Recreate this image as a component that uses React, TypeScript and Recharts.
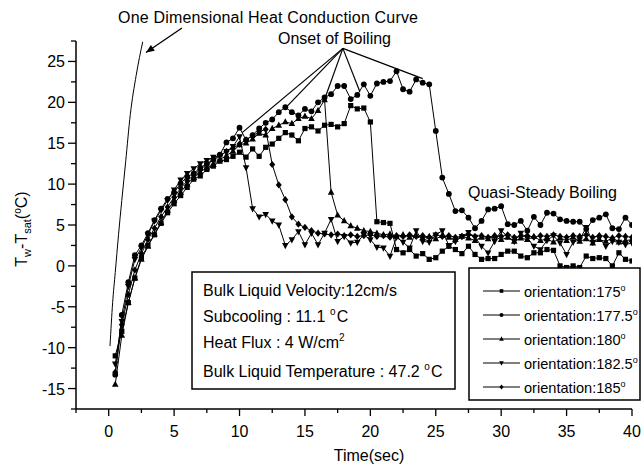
import { LineChart, Line, XAxis, YAxis, ReferenceLine } from 'recharts';

const FONT = '"Liberation Sans", Arial, Helvetica, sans-serif';

// sampling grid, 0.5 s steps
const times = Array.from({ length: 80 }, (_, i) => (i + 1) * 0.5);

// wall superheat (Tw - Tsat, °C) per orientation
const orient175 = [
  -11, -8, -4.5, -1.5, 1.0, 2.5, 3.8, 5.2, 6.5, 7.6,
  8.6, 9.6, 10.6, 11.0, 11.8, 12.2, 12.8, 13.0, 13.4, 13.9,
  13.3, 14.3, 13.4, 14.5, 14.9, 15.6, 16.3, 16.0, 15.3, 16.8,
  17.0, 16.5, 17.2, 17.3, 17.0, 17.4, 19.6, 19.2, 19.3, 17.6,
  5.4, 5.3, 5.2, 2.0, 1.6, 2.0, 1.2, 1.5, 0.8, 1.0,
  1.8, 2.4, 2.0, 1.5, 2.4, 1.4, 0.8, 0.9, 0.9, 1.4,
  1.8, 1.8, 1.2, 1.0, 1.6, 1.6, 2.0, 1.9, 0.0, -0.2,
  0.0, -0.2, 1.2, 0.9, 1.0, 0.9, 0.0, 1.6, 0.8, 0.6,
];
const orient177 = [
  -13.3, -6.0, -2.0, 1.3, 2.5, 4.0, 5.6, 7.0, 8.2, 9.0,
  10.1, 10.9, 11.3, 12.0, 12.5, 13.0, 13.6, 15.1, 15.6, 16.9,
  15.4, 16.0, 16.8, 17.5, 17.9, 18.8, 19.4, 18.8, 18.4, 19.2,
  18.9, 20.0, 20.6, 21.0, 22.0, 22.0, 20.4, 20.9, 22.2, 20.8,
  22.3, 22.5, 22.6, 23.8, 21.6, 21.3, 22.8, 22.4, 22.2, 16.5,
  10.8, 8.8, 6.7, 6.8, 5.9, 4.6, 5.5, 6.9, 7.0, 7.3,
  5.1, 5.0, 5.5, 4.3, 6.0, 5.0, 6.5, 6.4, 5.7, 5.5,
  5.4, 5.4, 4.5, 5.6, 5.9, 6.3, 4.6, 4.5, 5.9, 5.0,
];
const orient180 = [
  -14.5, -8.5, -4.5, -1.5, 0.8, 2.4, 3.9, 5.3, 6.8, 8.0,
  9.0, 10.0, 10.8, 11.5, 12.0, 12.4, 13.0, 13.5, 14.0, 14.8,
  15.0, 15.5, 16.2, 16.0, 16.8, 17.2, 17.6, 17.4, 18.0, 18.3,
  18.0, 19.0, 20.3, 9.0, 6.2, 5.5, 4.9, 4.6, 4.3, 4.2,
  4.0, 3.8, 3.9, 3.6, 3.8, 3.5, 3.7, 3.4, 3.6, 3.3,
  3.7, 3.5, 3.2, 3.6, 3.4, 3.1, 3.5, 3.3, 3.6, 3.2,
  3.5, 3.0, 3.4, 3.2, 3.6, 3.1, 3.3, 2.9, 3.4, 3.1,
  3.5, 3.0, 3.3, 2.8, 3.2, 3.0, 3.4, 2.9, 3.1, 3.2,
];
const orient182 = [
  -12.0, -6.8, -2.5, 0.8, 2.2, 3.8, 5.5, 6.8, 8.0, 9.3,
  10.5, 11.3, 11.9, 12.5, 12.9, 13.3, 13.4, 14.0, 14.6, 15.8,
  12.0, 7.0, 6.0, 6.3, 5.5, 5.0, 2.5, 3.2, 4.2, 2.6,
  4.0, 2.6, 4.0, 5.7, 3.0, 3.6, 2.8, 2.9, 3.8, 3.2,
  2.3, 2.2, 1.2, 3.5, 2.9, 2.2, 4.3, 3.0, 2.9, 3.8,
  4.3, 2.5, 3.0, 3.6, 4.1, 3.5, 2.4, 1.6, 3.0, 4.3,
  3.6, 3.0, 4.0, 3.4, 2.4, 2.0, 3.1, 3.7, 2.8, 1.4,
  2.9, 3.2, 4.7, 2.9, 3.4, 2.4, 3.0, 2.9, 2.6, 2.8,
];
const orient185 = [
  -13.0, -7.2, -3.5, -0.5, 1.5, 3.2, 4.6, 6.0, 7.2, 8.4,
  9.5, 10.4, 11.1, 11.8, 12.4, 12.9, 13.5, 14.0, 14.4, 14.9,
  15.4, 15.9, 16.4, 16.7, 12.4, 9.9, 8.1, 6.0, 5.1, 4.7,
  4.3, 4.0, 3.9, 3.8, 3.9, 3.7, 3.8, 3.6, 3.7, 3.8,
  3.6, 3.7, 3.5, 3.7, 3.6, 3.8, 3.6, 3.7, 3.5, 3.8,
  3.6, 3.7, 3.5, 3.6, 3.8, 3.6, 3.7, 3.5, 3.7, 3.6,
  3.8, 3.5, 3.6, 3.7, 3.5, 3.7, 3.6, 3.8, 3.6, 3.5,
  3.7, 3.6, 3.8, 3.5, 3.7, 3.6, 3.4, 3.7, 3.6, 3.5,
];

const seriesDefs = [
  { id: 's175', label: '175', values: orient175, shape: 'square' },
  { id: 's177', label: '177.5', values: orient177, shape: 'circle' },
  { id: 's180', label: '180', values: orient180, shape: 'triUp' },
  { id: 's182', label: '182.5', values: orient182, shape: 'triDown' },
  { id: 's185', label: '185', values: orient185, shape: 'diamond' },
];

// one dimensional heat conduction curve
const conductionT = [0.1, 0.3, 0.5, 0.75, 1.0, 1.3, 1.65, 2.1, 2.6];
const conductionV = [-9.8, -4.5, -0.8, 3.8, 8.0, 12.8, 18.5, 23.3, 27.4];

const xTicks = [-2.5, 0, 2.5, 5, 7.5, 10, 12.5, 15, 17.5, 20, 22.5, 25, 27.5, 30, 32.5, 35, 37.5, 40];
const yTicks = [-17.5, -15, -12.5, -10, -7.5, -5, -2.5, 0, 2.5, 5, 7.5, 10, 12.5, 15, 17.5, 20, 22.5, 25, 27.5];

// annotation anchors in data units
const onsetApex = { x: 17.9, y: 26.6 };
const onsetPoints = [
  { x: 10.2, y: 16.3 },
  { x: 13.5, y: 19.3 },
  { x: 16.6, y: 20.8 },
  { x: 19.2, y: 21.3 },
  { x: 24.0, y: 22.9 },
];
const arrowFrom = { x: 5.6, y: 29.1 };
const arrowTo = { x: 2.85, y: 26.1 };

const seriesData = seriesDefs.map((s) => times.map((t, i) => ({ t, v: s.values[i] })));
const conductionData = conductionT.map((t, i) => ({ t, v: conductionV[i] }));

function MarkerShape({ kind, cx, cy, s = 1 }: { kind: string; cx: number; cy: number; s?: number }) {
  if (cx == null || cy == null) return null;
  if (kind === 'square') return <rect x={cx - 2.6 * s} y={cy - 2.6 * s} width={5.2 * s} height={5.2 * s} fill="#000" />;
  if (kind === 'circle') return <circle cx={cx} cy={cy} r={2.9 * s} fill="#000" />;
  let pts: number[][] = [];
  if (kind === 'triUp') pts = [[0, -3.8], [3.3, 2.4], [-3.3, 2.4]];
  if (kind === 'triDown') pts = [[0, 3.8], [3.3, -2.4], [-3.3, -2.4]];
  if (kind === 'diamond') pts = [[0, -3.6], [3, 0], [0, 3.6], [-3, 0]];
  return <polygon points={pts.map(([dx, dy]) => `${cx + dx * s},${cy + dy * s}`).join(' ')} fill="#000" />;
}

const makeDot = (kind: string) => (p: any) => <MarkerShape key={p.index} kind={kind} cx={p.cx} cy={p.cy} />;

function XTick(props: any) {
  const { x, y, payload } = props;
  const major = payload.value % 5 === 0;
  return (
    <g>
      <line x1={x} y1={y} x2={x} y2={y + (major ? 7 : 4)} stroke="#000" strokeWidth={1.3} />
      {major && (
        <text x={x} y={y + 28} textAnchor="middle" fontSize={16} fontFamily={FONT} fill="#000">
          {payload.value}
        </text>
      )}
    </g>
  );
}

function YTick(props: any) {
  const { x, y, payload } = props;
  const major = payload.value % 5 === 0;
  return (
    <g>
      <line x1={x} y1={y} x2={x - (major ? 8 : 5)} y2={y} stroke="#000" strokeWidth={1.3} />
      {major && (
        <text x={x - 11} y={y + 6} textAnchor="end" fontSize={16} fontFamily={FONT} fill="#000">
          {payload.value}
        </text>
      )}
    </g>
  );
}

function ArrowShape(props: any) {
  const { x1, y1, x2, y2 } = props;
  const ang = Math.atan2(y2 - y1, x2 - x1);
  const len = 9;
  const a1 = ang + Math.PI - 0.4;
  const a2 = ang + Math.PI + 0.4;
  return (
    <g>
      <line x1={x1} y1={y1} x2={x2} y2={y2} stroke="#000" strokeWidth={1.3} />
      <polygon
        points={`${x2},${y2} ${x2 + len * Math.cos(a1)},${y2 + len * Math.sin(a1)} ${x2 + len * Math.cos(a2)},${y2 + len * Math.sin(a2)}`}
        fill="#000"
      />
    </g>
  );
}

const Sup = ({ children }: { children: string }) => (
  <>
    <tspan fontSize={10} dy={-7}>{children}</tspan>
    <tspan dy={7}>{'\u200A'}</tspan>
  </>
);

export default function App() {
  return (
    <div style={{ position: 'absolute', left: 0, top: 0, width: 641, height: 468, background: '#fff' }}>
      <LineChart width={641} height={468} margin={{ top: 41, right: 9, bottom: 0, left: 0 }}>
        <XAxis
          type="number"
          dataKey="t"
          domain={[-2.5, 40]}
          ticks={xTicks}
          interval={0}
          allowDataOverflow
          height={59}
          tickSize={0}
          tickMargin={0}
          tick={<XTick />}
          axisLine={{ stroke: '#000', strokeWidth: 1.5 }}
          tickLine={false}
        />
        <YAxis
          type="number"
          dataKey="v"
          domain={[-17.5, 27.5]}
          ticks={yTicks}
          interval={0}
          allowDataOverflow
          width={76}
          tickSize={0}
          tickMargin={0}
          tick={<YTick />}
          axisLine={{ stroke: '#000', strokeWidth: 1.5 }}
          tickLine={false}
        />
        <Line
          data={conductionData}
          dataKey="v"
          type="monotone"
          stroke="#000"
          strokeWidth={1}
          dot={false}
          isAnimationActive={false}
          name="conduction"
        />
        {seriesDefs.map((s, i) => (
          <Line
            key={s.id}
            data={seriesData[i]}
            dataKey="v"
            name={s.id}
            type="linear"
            stroke="#000"
            strokeWidth={1}
            dot={makeDot(s.shape)}
            isAnimationActive={false}
          />
        ))}
        {onsetPoints.map((p, i) => (
          <ReferenceLine
            key={i}
            segment={[onsetApex, p]}
            stroke="#000"
            strokeWidth={1.2}
            ifOverflow="visible"
          />
        ))}
        <ReferenceLine segment={[arrowFrom, arrowTo]} ifOverflow="visible" shape={ArrowShape} />
      </LineChart>

      <svg
        width={641}
        height={468}
        style={{ position: 'absolute', left: 0, top: 0, pointerEvents: 'none' }}
        fontFamily={FONT}
        fill="#000"
      >
        <text x={118} y={23} fontSize={16} fill="#000" textLength={300}>One Dimensional Heat Conduction Curve</text>
        <text x={278} y={44} fontSize={16} fill="#000" textLength={113}>Onset of Boiling</text>
        <text x={468} y={198} fontSize={16} fill="#000" textLength={149}>Quasi-Steady Boiling</text>

        <g transform="translate(27,229) rotate(-90)">
          <text x={0} y={0} textAnchor="middle" fontSize={16} fill="#000" stroke="none">
            T<tspan fontSize={11} dy={4}>w</tspan>
            <tspan dy={-4}>-T</tspan>
            <tspan fontSize={11} dy={4}>sat</tspan>
            <tspan dy={-4}>(</tspan>
            <tspan fontSize={10} dy={-6}>o</tspan>
            <tspan dy={6}>C)</tspan>
          </text>
        </g>
        <text x={369} y={461} textAnchor="middle" fontSize={16} fill="#000">Time(sec)</text>

        <rect x={192} y={272} width={263} height={117} fill="#fff" stroke="#000" strokeWidth={1.5} />
        <text x={203} y={296} fontSize={16} fill="#000">Bulk Liquid Velocity:12cm/s</text>
        <text x={203} y={322} fontSize={16} fill="#000">Subcooling : 11.1 <Sup>o</Sup>C</text>
        <text x={203} y={348} fontSize={16} fill="#000">Heat Flux : 4 W/cm<Sup>2</Sup></text>
        <text x={203} y={377} fontSize={16} fill="#000">Bulk Liquid Temperature : 47.2 <Sup>o</Sup>C</text>

        <rect x={469} y={268} width={171} height={132} fill="#fff" stroke="#000" strokeWidth={1.5} />
        {seriesDefs.map((s, i) => {
          const cy = 291 + i * 24;
          return (
            <g key={s.id}>
              <line x1={483} y1={cy} x2={520} y2={cy} stroke="#000" strokeWidth={1} />
              <MarkerShape kind={s.shape} cx={501.5} cy={cy} s={0.7} />
              <text x={524} y={cy + 5.5} fontSize={14.6} fill="#000">
                orientation:{s.label}
                <tspan fontSize={9} dy={-6}>o</tspan>
              </text>
            </g>
          );
        })}
      </svg>
    </div>
  );
}
